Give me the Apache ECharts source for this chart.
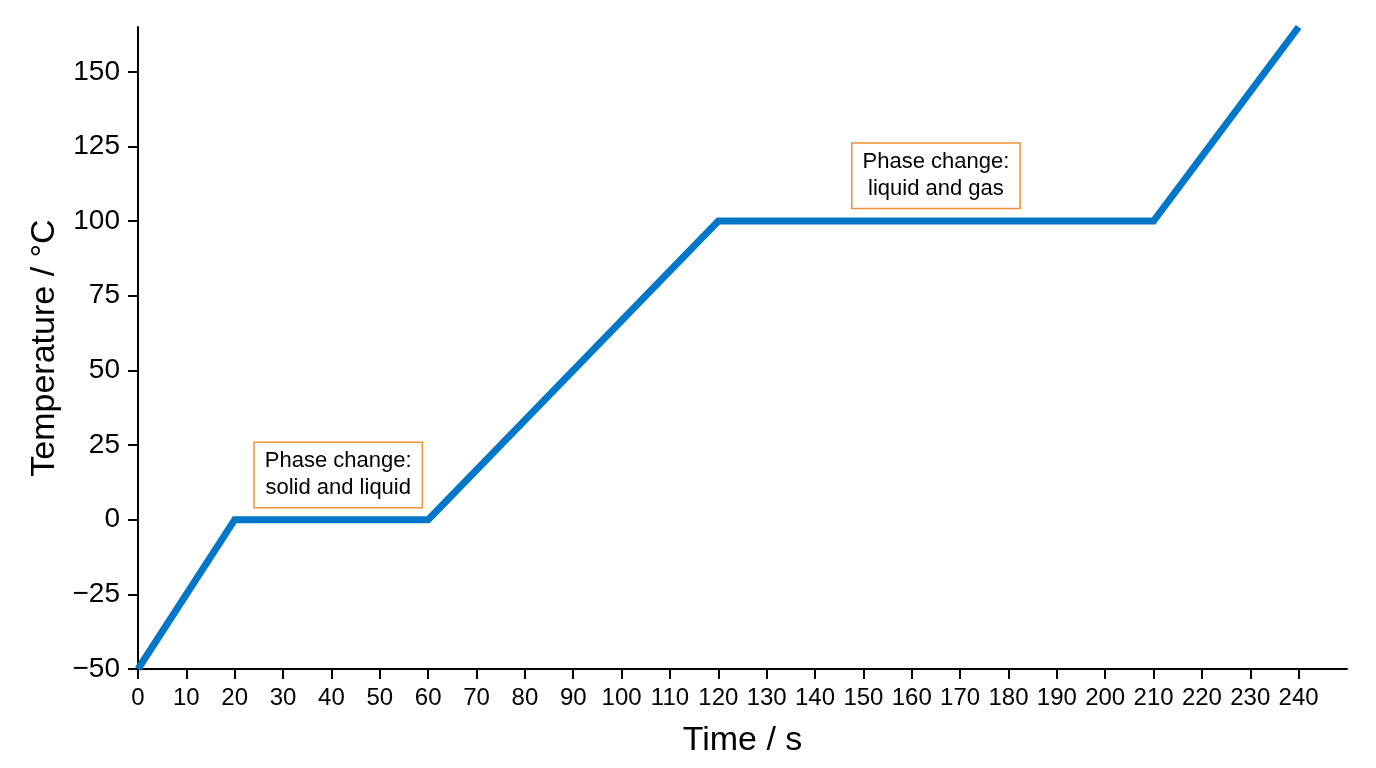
<!DOCTYPE html>
<html>
<head>
<meta charset="utf-8">
<script src="https://cdn.jsdelivr.net/npm/echarts@6/dist/echarts.min.js"></script>
<style>
  html, body { margin: 0; padding: 0; background: #fff; }
  #chart { width: 1376px; height: 768px; }
</style>
</head>
<body>
<div id="chart"></div>
<script>
// Data
var timeValues = [0, 20, 60, 120, 210, 240];
var temperatureValues = [-50, 0, 0, 100, 100, 165];
var xTickValues = [0, 10, 20, 30, 40, 50, 60, 70, 80, 90, 100, 110, 120, 130, 140, 150, 160, 170, 180, 190, 200, 210, 220, 230, 240];
var yTickValues = [-50, -25, 0, 25, 50, 75, 100, 125, 150];
var annotationTexts = ['Phase change:\nsolid and liquid', 'Phase change:\nliquid and gas'];
var annotationX = [41.4, 165];
var annotationY = [15, 115.2];

var FONT = '"Liberation Sans", Arial, Helvetica, sans-serif';

var lineData = timeValues.map(function (t, i) { return [t, temperatureValues[i]]; });
var markData = annotationTexts.map(function (txt, i) {
  return { coord: [annotationX[i], annotationY[i]], value: txt };
});

var chart = echarts.init(document.getElementById('chart'));
chart.setOption({
  animation: false,
  backgroundColor: '#ffffff',
  grid: { left: 138, right: 29, top: 27, bottom: 99, containLabel: false },
  xAxis: {
    type: 'value',
    min: 0,
    max: 250,
    interval: 10,
    name: 'Time / s',
    nameLocation: 'middle',
    nameGap: 55,
    nameTextStyle: { fontFamily: FONT, fontSize: 34, color: '#000' },
    axisLine: { show: true, onZero: false, lineStyle: { color: '#000', width: 2 } },
    axisTick: { show: true, length: 10, lineStyle: { color: '#000', width: 2 }, customValues: xTickValues },
    axisLabel: { fontFamily: FONT, fontSize: 24, color: '#000', margin: 17, customValues: xTickValues },
    splitLine: { show: false }
  },
  yAxis: {
    type: 'value',
    min: -50,
    max: 165,
    interval: 25,
    name: 'Temperature / °C',
    nameLocation: 'middle',
    nameGap: 76,
    nameTextStyle: { fontFamily: FONT, fontSize: 34, color: '#000' },
    axisLine: { show: true, onZero: false, lineStyle: { color: '#000', width: 2 } },
    axisTick: { show: true, length: 10, lineStyle: { color: '#000', width: 2 }, customValues: yTickValues },
    axisLabel: {
      fontFamily: FONT, fontSize: 28, color: '#000', margin: 18, customValues: yTickValues,
      formatter: function (v) { return String(v).replace('-', '\u2212'); }
    },
    splitLine: { show: false }
  },
  series: [{
    type: 'line',
    data: lineData,
    showSymbol: false,
    symbol: 'none',
    lineStyle: { color: '#0077C8', width: 7, cap: 'butt', join: 'miter' },
    markPoint: {
      symbol: 'rect',
      symbolSize: 1,
      itemStyle: { color: 'rgba(0,0,0,0)' },
      label: {
        show: true,
        position: 'inside',
        formatter: function (p) { return p.value; },
        fontFamily: FONT,
        fontSize: 22,
        lineHeight: 27,
        color: '#000',
        align: 'center',
        backgroundColor: '#ffffff',
        borderColor: '#EE9139',
        borderWidth: 1.5,
        padding: [5, 10, 5, 10]
      },
      data: markData
    }
  }]
});
</script>
</body>
</html>
